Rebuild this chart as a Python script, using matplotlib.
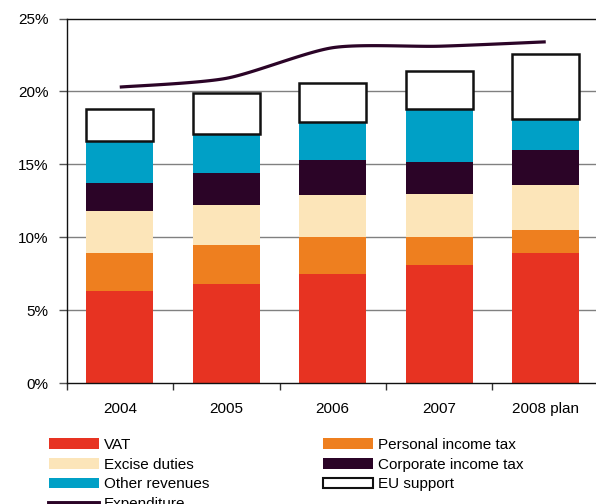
import numpy as np
import matplotlib
matplotlib.use("Agg")
import matplotlib.pyplot as plt
from matplotlib.patches import Patch
from matplotlib.lines import Line2D

plt.rcParams['font.family'] = ['Liberation Sans', 'DejaVu Sans']

years = ["2004", "2005", "2006", "2007", "2008 plan"]
vat = [6.3, 6.8, 7.5, 8.1, 8.9]
personal = [2.6, 2.7, 2.5, 1.9, 1.6]
excise = [2.9, 2.7, 2.9, 3.0, 3.1]
corporate = [1.9, 2.2, 2.4, 2.2, 2.4]
other = [2.9, 2.7, 2.6, 3.6, 2.1]
eu = [2.2, 2.8, 2.7, 2.6, 4.5]
expenditure = [20.3, 20.9, 23.0, 23.1, 23.4]
y_ticks = [0, 5, 10, 15, 20, 25]
y_tick_labels = ["0%", "5%", "10%", "15%", "20%", "25%"]

series = [
    ("VAT", vat, "#E73322"),
    ("Personal income tax", personal, "#EE7F1F"),
    ("Excise duties", excise, "#FCE5B9"),
    ("Corporate income tax", corporate, "#2B0427"),
    ("Other revenues", other, "#00A0C6"),
]

W, H = 596, 504
fig = plt.figure(figsize=(W / 100, H / 100), dpi=100)
left_px, right_px, top_px, bot_px = 66.5, 599.0, 18.5, 383.3
ax = fig.add_axes([left_px / W, 1 - bot_px / H, (right_px - left_px) / W, (bot_px - top_px) / H])

x = np.arange(len(years))
bw = 0.63
bottom = np.zeros(len(years))
handles = {}
for name, vals, col in series:
    vals = np.array(vals)
    ax.bar(x, vals, bw, bottom=bottom, color=col, edgecolor='none', zorder=2)
    handles[name] = Patch(facecolor=col, edgecolor='none')
    bottom += vals
ax.bar(x, eu, bw, bottom=bottom, facecolor='white', edgecolor='#111111', linewidth=1.8, zorder=2)
handles["EU support"] = Patch(facecolor='white', edgecolor='#111111', linewidth=1.5)

# smoothed expenditure line (Bezier through the data points)
P = np.column_stack([x, expenditure]).astype(float)
xs, ys = [], []
n = len(P)
k = 8.0
for i in range(n - 1):
    p0 = P[max(i - 1, 0)]
    p1 = P[i]
    p2 = P[i + 1]
    p3 = P[min(i + 2, n - 1)]
    c1 = p1 + (p2 - p0) / k
    c2 = p2 - (p3 - p1) / k
    t = np.linspace(0, 1, 30)[:, None]
    pts = (1 - t) ** 3 * p1 + 3 * (1 - t) ** 2 * t * c1 + 3 * (1 - t) * t ** 2 * c2 + t ** 3 * p2
    xs.extend(pts[:, 0]); ys.extend(pts[:, 1])
ax.plot(xs, ys, color="#2B0427", lw=2.3, zorder=3, solid_capstyle='butt')
handles["Expenditure"] = Line2D([], [], color="#2B0427", lw=2.8)

ax.set_xlim(-0.5, len(years) - 0.5)
ax.set_ylim(0, 25)
ax.set_yticks(y_ticks)
ax.set_yticklabels(y_tick_labels)
for yv in y_ticks[1:-1]:
    ax.axhline(yv, color='#808080', lw=1.0, zorder=1)

ax.set_xticks(x)
ax.set_xticklabels(years)
ax.set_xticks(np.arange(-0.5, len(years), 1.0), minor=True)
ax.tick_params(axis='x', which='major', length=0, pad=13.5, labelsize=11)
ax.tick_params(axis='x', which='minor', length=5, width=1, color='#333333', direction='out')
ax.tick_params(axis='y', length=6, width=1, color='#555555', labelsize=11, pad=7)

for s in ['left', 'bottom', 'top']:
    ax.spines[s].set_color('#111111')
    ax.spines[s].set_linewidth(1.0)
ax.spines['right'].set_visible(False)

leg_kw = dict(frameon=False, fontsize=11, handlelength=3.27, handleheight=0.72,
              handletextpad=0.3, labelspacing=0.37, borderpad=0, borderaxespad=0,
              loc='upper left')
col1 = ["VAT", "Excise duties", "Other revenues", "Expenditure"]
col2 = ["Personal income tax", "Corporate income tax", "EU support"]
l1 = fig.legend([handles[k] for k in col1], col1,
                bbox_to_anchor=(49 / W, 1 - 438 / H), **leg_kw)
l2 = fig.legend([handles[k] for k in col2], col2,
                bbox_to_anchor=(323 / W, 1 - 438 / H), **leg_kw)

fig.savefig("out.png", dpi=100)
